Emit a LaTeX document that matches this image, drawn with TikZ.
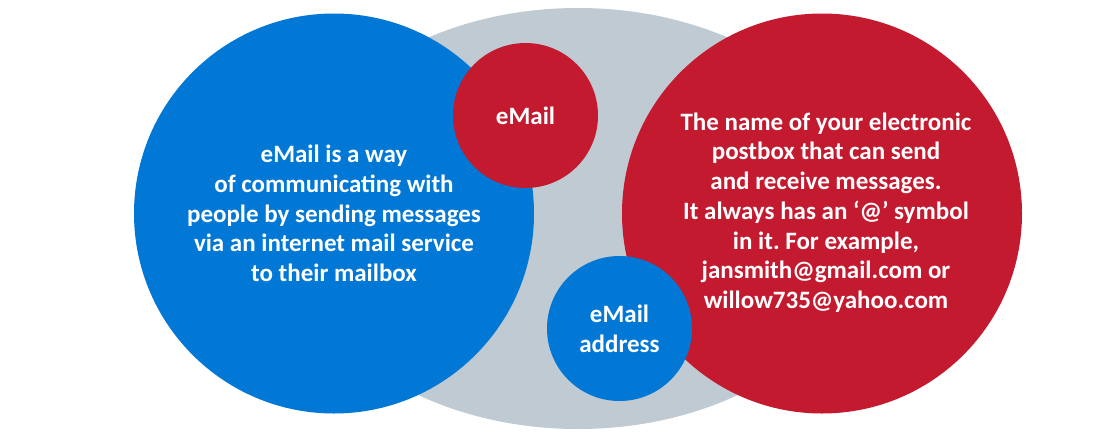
\documentclass[tikz,border=0pt]{standalone}
\usepackage{fontspec}
\setmainfont{Carlito}
\usetikzlibrary{shapes.geometric}
\definecolor{cblue}{HTML}{0177D6}
\definecolor{cred}{HTML}{C31A2F}
\definecolor{cgrey}{HTML}{BFCAD3}
\frenchspacing
\begin{document}
\begin{tikzpicture}[x=1pt,y=-1pt,
  disctext/.style={inner sep=0pt,text=white,font=\bfseries\fontsize{25}{29.7}\selectfont,align=center},
  disc/.style={circle,disctext},
  bigdisc/.style={disc,minimum size=400pt},
  smalldisc/.style={disc,minimum size=145pt}]
\useasboundingbox (0,0) rectangle (1093,437);
\node[ellipse,fill=cgrey,inner sep=0pt,minimum width=586pt,minimum height=421pt] (bg) at (578,218.5) {};
\node[bigdisc,fill=cblue] (def) at (334,213.5) {eMail is a way\\ of communicating with\\ people by sending messages\\ via an internet mail service\\ to their mailbox};
\node[bigdisc,fill=cred] (addr) at (822,213.5) {};
\node[disctext] (addrtext) at (826,212.5) {The name of your electronic\\ postbox that can send\\ and receive messages.\\ It always has an ‘@’ symbol\\ in it. For example,\\ jansmith@gmail.com or\\ willow735@yahoo.com};
\node[smalldisc,fill=cred] (email) at (525.5,115.5) {eMail};
\node[smalldisc,fill=cblue] (eaddr) at (619.5,328.5) {eMail\\ address};
\end{tikzpicture}
\end{document}
